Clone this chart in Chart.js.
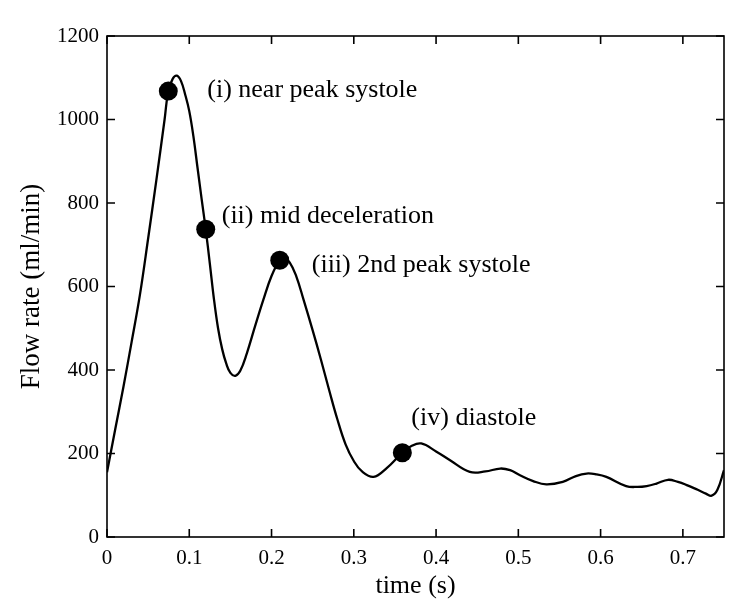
<!DOCTYPE html>
<html>
<head>
<meta charset="utf-8">
<script src="https://cdn.jsdelivr.net/npm/chart.js@4"></script>
<style>
  html, body { margin: 0; padding: 0; background: #fff; }
  #wrap { width: 747px; height: 612px; }
</style>
</head>
<body>
<div id="wrap"><canvas id="flowChart" width="747" height="612"></canvas></div>
<script>
// Flow waveform
const times = [0, 0.01, 0.02, 0.03, 0.04, 0.05, 0.06, 0.07, 0.0745, 0.08, 0.085, 0.09, 0.095,
    0.1, 0.105, 0.11, 0.115, 0.12, 0.125, 0.13, 0.135, 0.14, 0.145, 0.15, 0.156, 0.162, 0.17, 0.18, 0.19, 0.2, 0.21, 0.215,
    0.222, 0.23, 0.239, 0.25, 0.26, 0.27, 0.28, 0.29, 0.3, 0.31, 0.324, 0.34, 0.359, 0.37, 0.382, 0.4, 0.417, 0.441,
    0.46, 0.478, 0.49, 0.502, 0.518, 0.534, 0.554, 0.57, 0.583, 0.595, 0.607, 0.631, 0.645, 0.656, 0.668, 0.682,
    0.694, 0.704, 0.718, 0.728, 0.735, 0.742, 0.75];
const flow = [155, 258, 360, 468, 580, 715, 855, 1000, 1068, 1098, 1105, 1092, 1060,
    1020, 960, 885, 810, 737, 655, 570, 500, 450, 415, 393, 386, 398, 440, 505, 568, 625, 663, 668,
    658, 625, 568, 495, 425, 352, 282, 222, 182, 157, 144, 165, 202, 218, 224, 205, 184, 156,
    157, 164, 160, 148, 134, 126, 132, 146, 152, 150, 144, 122, 120, 122, 128, 137,
    132, 125, 113, 104, 99, 113, 160];

// Highlighted instants and their captions
const markTimes = [0.0745, 0.12, 0.21, 0.359];
const markFlow = [1068, 737, 663, 202];
const markLabels = ['(i) near peak systole', '(ii) mid deceleration', '(iii) 2nd peak systole', '(iv) diastole'];

const xTicks = [0, 0.1, 0.2, 0.3, 0.4, 0.5, 0.6, 0.7];
const yTicks = [0, 200, 400, 600, 800, 1000, 1200];

const serif = 'Liberation Serif';

// Frame with inward ticks on all four sides, plus marker captions
const framePlugin = {
    id: 'frame',
    afterDatasetsDraw(chart) {
        const { ctx, chartArea: a, scales: { x, y } } = chart;
        const tick = 8;
        ctx.save();
        ctx.strokeStyle = '#000';
        ctx.lineWidth = 1.6;
        ctx.strokeRect(a.left, a.top, a.right - a.left, a.bottom - a.top);
        ctx.beginPath();
        xTicks.forEach(v => {
            const px = x.getPixelForValue(v);
            ctx.moveTo(px, a.bottom); ctx.lineTo(px, a.bottom - tick);
            ctx.moveTo(px, a.top); ctx.lineTo(px, a.top + tick);
        });
        yTicks.forEach(v => {
            const py = y.getPixelForValue(v);
            ctx.moveTo(a.left, py); ctx.lineTo(a.left + tick, py);
            ctx.moveTo(a.right, py); ctx.lineTo(a.right - tick, py);
        });
        ctx.stroke();

        // captions next to each marker (offsets in px from the marker, to the baseline)
        ctx.fillStyle = '#000';
        ctx.font = '26px "' + serif + '"';
        ctx.textBaseline = 'alphabetic';
        const offsets = [[39, 6], [16, -6], [32, 12], [9, -28]];
        markLabels.forEach((txt, i) => {
            const px = x.getPixelForValue(markTimes[i]);
            const py = y.getPixelForValue(markFlow[i]);
            ctx.fillText(txt, px + offsets[i][0], py + offsets[i][1]);
        });
        ctx.restore();
    }
};

const ctx = document.getElementById('flowChart').getContext('2d');

new Chart(ctx, {
    type: 'line',
    data: {
        datasets: [
            {
                label: 'flow',
                data: times.map((t, i) => ({ x: t, y: flow[i] })),
                borderColor: '#000',
                borderWidth: 2.3,
                pointRadius: 0,
                tension: 0.4,
                fill: false
            },
            {
                label: 'markers',
                data: markTimes.map((t, i) => ({ x: t, y: markFlow[i] })),
                showLine: false,
                pointRadius: 9.5,
                pointBackgroundColor: '#000',
                pointBorderColor: '#000',
                pointBorderWidth: 0
            }
        ]
    },
    options: {
        responsive: false,
        animation: false,
        events: [],
        layout: { padding: { top: 36, right: 23, left: 0, bottom: 0 } },
        plugins: {
            legend: { display: false },
            tooltip: { enabled: false }
        },
        scales: {
            x: {
                type: 'linear',
                min: 0,
                max: 0.75,
                afterBuildTicks: s => { s.ticks = xTicks.map(v => ({ value: v })); },
                afterFit: s => { s.height = 75; },
                grid: { display: false, drawTicks: false },
                border: { display: false },
                ticks: {
                    color: '#000',
                    padding: 9,
                    maxRotation: 0,
                    font: { family: serif, size: 21 },
                    callback: v => String(v)
                },
                title: {
                    display: true,
                    text: 'time (s)',
                    color: '#000',
                    padding: { top: 0, bottom: 10 },
                    font: { family: serif, size: 26 }
                }
            },
            y: {
                type: 'linear',
                min: 0,
                max: 1200,
                afterBuildTicks: s => { s.ticks = yTicks.map(v => ({ value: v })); },
                afterFit: s => { s.width = 107; },
                grid: { display: false, drawTicks: false },
                border: { display: false },
                ticks: {
                    color: '#000',
                    padding: 8,
                    font: { family: serif, size: 21 },
                    callback: v => String(v)
                },
                title: {
                    display: true,
                    text: 'Flow rate (ml/min)',
                    color: '#000',
                    padding: { top: 16, bottom: 0 },
                    font: { family: serif, size: 27 }
                }
            }
        }
    },
    plugins: [framePlugin]
});
</script>
</body>
</html>
